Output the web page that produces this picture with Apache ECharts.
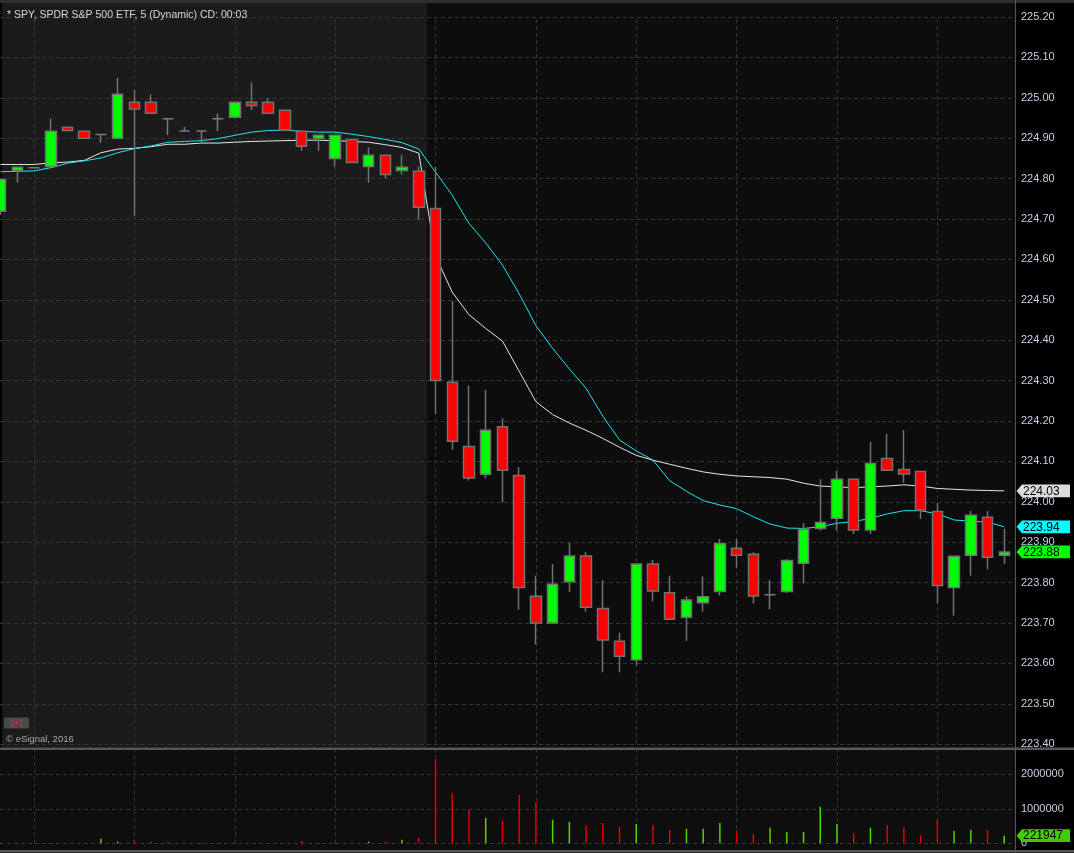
<!DOCTYPE html>
<html><head><meta charset="utf-8">
<script src="https://cdn.jsdelivr.net/npm/echarts@6/dist/echarts.min.js"></script>
<style>html,body{margin:0;padding:0;background:#000;}#c{width:1074px;height:853px;}</style>
</head><body><div id="c"></div>
<script>
// ---- data (5-minute bars, SPY) ----
const opens = [224.719,224.820,224.827,224.830,224.927,224.917,224.909,224.900,224.989,224.989,
 224.948,224.918,224.918,224.948,224.952,224.989,224.989,224.969,224.917,224.900,
 224.850,224.897,224.830,224.858,224.820,224.818,224.726,224.296,224.137,224.068,
 224.186,224.065,223.766,223.700,223.802,223.866,223.736,223.655,223.609,223.846,
 223.775,223.714,223.750,223.778,223.885,223.870,223.770,223.778,223.848,223.934,
 223.959,224.056,223.930,224.107,224.080,224.075,223.976,223.788,223.868,223.962,223.868];
const closes = [224.798,224.828,224.827,224.917,224.919,224.900,224.909,225.009,224.972,224.962,
 224.948,224.918,224.918,224.948,224.989,224.981,224.962,224.920,224.880,224.907,
 224.907,224.840,224.858,224.810,224.828,224.729,224.300,224.150,224.059,224.177,
 224.078,223.788,223.700,223.796,223.866,223.739,223.658,223.618,223.846,223.779,
 223.709,223.757,223.765,223.896,223.868,223.767,223.770,223.855,223.932,223.949,
 224.056,223.930,224.095,224.078,224.069,223.980,223.793,223.865,223.967,223.863,223.876];
const lows = [224.710,224.790,224.827,224.830,224.919,224.900,224.889,224.900,224.708,224.962,
 224.908,224.918,224.889,224.918,224.952,224.970,224.962,224.920,224.869,224.869,
 224.830,224.840,224.790,224.800,224.810,224.698,224.218,224.129,224.053,224.058,
 223.998,223.733,223.647,223.700,223.777,223.728,223.578,223.578,223.595,223.754,
 223.709,223.656,223.728,223.768,223.837,223.748,223.734,223.774,223.798,223.929,
 223.929,223.920,223.920,224.078,224.047,223.958,223.748,223.718,223.817,223.833,223.846];
const highs = [224.800,224.830,224.827,224.949,224.927,224.917,224.909,225.049,225.019,225.009,
 224.948,224.928,224.918,224.961,224.989,225.038,224.999,224.969,224.917,224.907,
 224.907,224.897,224.877,224.858,224.858,224.830,224.829,224.497,224.288,224.277,
 224.207,224.086,223.817,223.846,223.898,223.876,223.806,223.676,223.846,223.856,
 223.817,223.766,223.816,223.908,223.908,223.875,223.806,223.858,223.947,224.056,
 224.076,224.056,224.148,224.168,224.178,224.075,223.997,223.865,223.977,223.977,223.933];
const maWhite = [224.835,224.835,224.835,224.839,224.841,224.845,224.864,224.873,224.875,224.879,
 224.885,224.885,224.888,224.888,224.890,224.892,224.893,224.894,224.895,224.895,
 224.894,224.892,224.890,224.884,224.877,224.863,224.608,224.519,224.463,224.429,
 224.398,224.323,224.248,224.216,224.195,224.177,224.157,224.135,224.115,224.103,
 224.093,224.083,224.074,224.068,224.064,224.062,224.060,224.056,224.046,224.039,
 224.037,224.035,224.037,224.039,224.042,224.039,224.033,224.031,224.029,224.028,224.027];
const maCyan = [224.817,224.818,224.819,224.827,224.838,224.844,224.851,224.864,224.874,224.881,
 224.890,224.892,224.894,224.899,224.907,224.915,224.919,224.920,224.917,224.915,
 224.915,224.910,224.904,224.897,224.889,224.873,224.816,224.759,224.689,224.641,
 224.586,224.515,224.436,224.380,224.329,224.281,224.212,224.153,224.126,224.103,
 224.052,224.026,224.003,223.992,223.983,223.963,223.945,223.935,223.934,223.938,
 223.947,223.951,223.959,223.970,223.978,223.978,223.970,223.955,223.952,223.950,223.938];
const volumes = [8000,6000,4000,9000,5000,6000,130000,50000,70000,50000,
 40000,5000,8000,6000,9000,7000,8000,12000,70000,10000,
 15000,12000,50000,50000,100000,160000,2430000,1440000,970000,740000,
 650000,1410000,1200000,680000,620000,530000,590000,480000,560000,530000,
 390000,420000,420000,590000,370000,270000,450000,330000,330000,1060000,
 560000,300000,450000,530000,480000,240000,680000,360000,390000,390000,221947];
const timeGridBars = [2,8,14,20,26,32,38,44,50,56];   // bars carrying a vertical time gridline
const sessionOpenBar = 26;                           // first regular-session bar
const titleText = '* SPY, SPDR S&P 500 ETF, 5 (Dynamic) CD: 00:03';
const copyrightText = '\u00a9 eSignal, 2016';

// ---- chart ----
const FONT = '"Liberation Sans", Arial, sans-serif';
const X_MIN = -0.0359, X_MAX = 60.701;
const chart = echarts.init(document.getElementById('c'));

const candleData = opens.map((o, i) => [i, o, closes[i], lows[i], highs[i]]);
const dir = opens.map((o, i) => closes[i] > o ? 1 : closes[i] < o ? -1 : (i > 0 && closes[i] >= closes[i - 1] ? 1 : -1));
const volData = volumes.map((v, i) => ({ value: [i, v], itemStyle: { color: dir[i] > 0 ? '#4fd800' : '#e00000' } }));
const vGrid = timeGridBars.map(b => ({ xAxis: b }));
const vGridMark = {
  silent: true, z: 0, symbol: ['none', 'none'], label: { show: false },
  lineStyle: { color: '#353535', type: [4, 3], width: 1 }, data: vGrid, animation: false
};

chart.setOption({
  backgroundColor: '#000',
  animation: false,
  grid: [
    { left: 0, right: 58, top: 17, height: 727.2, outerBoundsMode: 'none' },
    { left: 0, right: 58, top: 750.15, height: 93.15, outerBoundsMode: 'none' }
  ],
  xAxis: [
    { type: 'value', gridIndex: 0, min: X_MIN, max: X_MAX, show: false },
    { type: 'value', gridIndex: 1, min: X_MIN, max: X_MAX, show: false }
  ],
  yAxis: [
    { type: 'value', gridIndex: 0, position: 'right', min: 223.4, max: 225.2, interval: 0.1,
      axisLine: { show: false }, axisTick: { show: false },
      axisLabel: { color: '#c6d2e4', fontSize: 11, fontFamily: FONT, margin: 5, formatter: v => v.toFixed(2) },
      splitLine: { show: true, lineStyle: { color: '#353535', type: [4, 3], width: 1 } } },
    { type: 'value', gridIndex: 1, position: 'right', min: 0, max: 2700000, interval: 1000000,
      axisLine: { show: false }, axisTick: { show: false },
      axisLabel: { color: '#c6d2e4', fontSize: 11, fontFamily: FONT, margin: 5, showMaxLabel: false,
        formatter: v => (v % 1000000 === 0 ? String(v) : '') },
      splitLine: { show: true, showMaxLine: false, lineStyle: { color: '#353535', type: [4, 3], width: 1 } } }
  ],
  series: [
    { name: 'MA white', type: 'line', xAxisIndex: 0, yAxisIndex: 0, z: 1,
      data: maWhite.map((v, i) => [i, v]), symbol: 'none', lineStyle: { color: '#e6e6e6', width: 1 },
      markLine: vGridMark },
    { name: 'MA cyan', type: 'line', xAxisIndex: 0, yAxisIndex: 0, z: 1,
      data: maCyan.map((v, i) => [i, v]), symbol: 'none', lineStyle: { color: '#1ee6f0', width: 1 } },
    { name: 'SPY', type: 'candlestick', xAxisIndex: 0, yAxisIndex: 0, z: 3,
      data: candleData, encode: { x: 0, y: [1, 2, 3, 4] }, barWidth: 11,
      itemStyle: { color: '#00ff00', color0: '#ff0000', borderColor: '#727272', borderColor0: '#727272',
        borderColorDoji: '#7a7a7a', borderWidth: 1.5 } },
    { name: 'Volume', type: 'bar', xAxisIndex: 1, yAxisIndex: 1, z: 3,
      data: volData, barWidth: 1.5, markLine: vGridMark }
  ]
});

// ---- panel decoration derived from the axes ----
const xs = chart.convertToPixel({ xAxisIndex: 0 }, sessionOpenBar - 0.5);
const plotRight = 1015.5;
function tag(y, text, bg, fg) {
  return { type: 'group', z: 100, children: [
    { type: 'polygon', z: 100, shape: { points: [[1016.5, y], [1022, y - 6.3], [1070, y - 6.3], [1070, y + 6.3], [1022, y + 6.3]] }, style: { fill: bg } },
    { type: 'text', z: 101, x: 1023, y: y + 0.5, style: { text: text, fill: fg, font: '12px ' + FONT,
      textAlign: 'left', align: 'left', textVerticalAlign: 'middle', verticalAlign: 'middle' } }
  ]};
}
const n = closes.length - 1;
const yW = chart.convertToPixel({ yAxisIndex: 0 }, maWhite[n]);
const yC = chart.convertToPixel({ yAxisIndex: 0 }, maCyan[n]);
const yP = chart.convertToPixel({ yAxisIndex: 0 }, closes[n]);
const yV = chart.convertToPixel({ yAxisIndex: 1 }, volumes[n]);

chart.setOption({
  graphic: [
    { type: 'rect', z: -20, shape: { x: 2, y: 3, width: xs - 2, height: 744.5 }, style: { fill: '#1b1b1b' } },
    { type: 'rect', z: -20, shape: { x: xs, y: 3, width: plotRight - xs, height: 744.5 }, style: { fill: '#0d0d0d' } },
    { type: 'rect', z: -20, shape: { x: 0, y: 750, width: plotRight, height: 100 }, style: { fill: '#0e0e0e' } },
    { type: 'rect', z: 50, shape: { x: 0, y: 0, width: 1074, height: 3 }, style: { fill: '#2e2e2e' } },
    { type: 'rect', z: 50, shape: { x: 0, y: 747.5, width: 1074, height: 2.5 }, style: { fill: '#585858' } },
    { type: 'rect', z: 50, shape: { x: 0, y: 850, width: 1074, height: 2.5 }, style: { fill: '#585858' } },
    { type: 'line', z: 50, shape: { x1: 1015.5, y1: 0, x2: 1015.5, y2: 853 }, style: { stroke: '#585858', lineWidth: 1 } },
    { type: 'text', z: 60, x: 7, y: 15, style: { text: titleText, fill: '#d6d6d6', font: '10.5px ' + FONT,
      textAlign: 'left', align: 'left', textVerticalAlign: 'middle', verticalAlign: 'middle' } },
    { type: 'rect', z: 60, shape: { x: 4, y: 717.5, width: 25, height: 11, r: 2 }, style: { fill: '#4a4a4a' } },
    { type: 'text', z: 61, x: 16.5, y: 723.3, style: { text: '(+)', fill: '#e8303c', font: '9px ' + FONT,
      textAlign: 'center', align: 'center', textVerticalAlign: 'middle', verticalAlign: 'middle' } },
    { type: 'text', z: 60, x: 6, y: 739.5, style: { text: copyrightText, fill: '#ababab', font: '9.5px ' + FONT,
      textAlign: 'left', align: 'left', textVerticalAlign: 'middle', verticalAlign: 'middle' } },
    tag(yW, maWhite[n].toFixed(2), '#dcdcdc', '#000'),
    tag(yC, maCyan[n].toFixed(2), '#00ffff', '#000'),
    tag(yP, closes[n].toFixed(2), '#00ff00', '#000'),
    tag(yV, String(volumes[n]), '#44cc00', '#000')
  ]
});
</script></body></html>
